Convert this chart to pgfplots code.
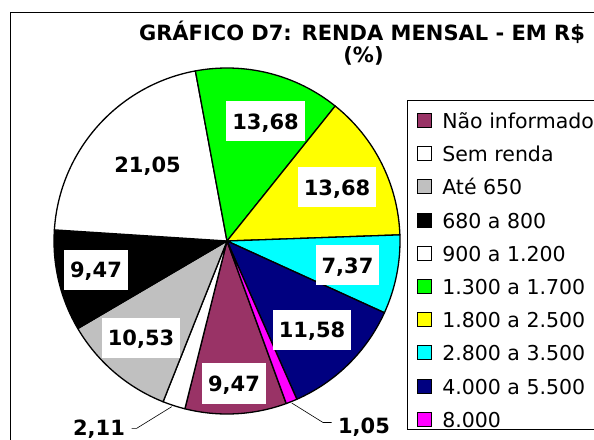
\documentclass[border=0pt]{standalone}
\usepackage{pgfplots}
\pgfplotsset{compat=1.18}
\usepackage{pgfplotstable}
\usepackage{fontspec}
\setmainfont{DejaVu Sans}

\definecolor{cNI}{HTML}{993366}
\definecolor{cSR}{HTML}{FFFFFF}
\definecolor{cA650}{HTML}{C0C0C0}
\definecolor{c680}{HTML}{000000}
\definecolor{c900}{HTML}{FFFFFF}
\definecolor{c1300}{HTML}{00FF00}
\definecolor{c1800}{HTML}{FFFF00}
\definecolor{c2800}{HTML}{00FFFF}
\definecolor{c4000}{HTML}{000080}
\definecolor{c8000}{HTML}{FF00FF}

% faixa de renda, percentual, cor, posicao do rotulo
\pgfplotstableread[col sep=comma]{
faixa,valor,cor,lx,ly,fundo
Não informado,9.47,cNI,234,55.5,white
Sem renda,2.11,cSR,99,11.5,none
Até 650,10.53,cA650,141,101,white
680 a 800,9.47,c680,96,169,white
900 a 1.200,21.05,c900,147.5,274,white
1.300 a 1.700,13.68,c1300,265.5,317.6,white
1.800 a 2.500,13.68,c1800,337,251.5,white
2.800 a 3.500,7.37,c2800,347.5,173.5,white
4.000 a 5.500,11.58,c4000,312,109,white
8.000,1.05,c8000,364,13.5,none
}\renda

\tikzset{rot/.style={font=\bfseries\fontsize{21}{25}\selectfont,
  inner xsep=5.8pt, inner ysep=0pt, text height=15.3pt, text depth=0pt,
  minimum height=40pt}}
\pgfkeys{/pgf/number format/.cd, use comma, fixed, fixed zerofill,
  precision=2, assume math mode=true}

\begin{document}
\begin{tikzpicture}
\begin{axis}[
    name=ax,
    x=1pt, y=1pt,
    xmin=0, xmax=594, ymin=0, ymax=439,
    axis lines=none,
    clip=false,
    legend image code/.code={
        \draw[#1,draw=black,line width=1pt] (0pt,1pt) rectangle (14pt,15pt);
        \path (24.5pt,0pt);},
    legend style={at={(axis cs:407,339)}, anchor=north west,
        draw=black, line width=0.8pt,
        font=\fontsize{20.5}{24}\selectfont,
        inner xsep=9.5pt, inner ysep=1.5pt, row sep=6.3pt,
        cells={anchor=base west},
        nodes={inner sep=0pt, text height=26.5pt, text depth=0pt}},
]
\pgfmathsetmacro\ang{-70}
\pgfplotsforeachungrouped \i in {0,...,9}{%
    \pgfplotstablegetelem{\i}{valor}\of\renda \let\val\pgfplotsretval
    \pgfplotstablegetelem{\i}{cor}\of\renda \let\cor\pgfplotsretval
    \pgfplotstablegetelem{\i}{faixa}\of\renda \let\faixa\pgfplotsretval
    \pgfmathsetmacro\fim{\ang-3.6*\val}
    \edef\fatia{\noexpand\filldraw[fill=\cor,draw=black,line width=1.3pt,line join=round]
        (axis cs:227,198) -- ++(\ang:173pt)
        arc[start angle=\ang,end angle=\fim,radius=173pt] -- cycle;}
    \fatia
    \edef\leg{\noexpand\addlegendimage{fill=\cor}\noexpand\addlegendentry{\faixa}}
    \leg
    \global\let\ang\fim
}
\pgfplotsforeachungrouped \i in {0,...,9}{%
    \pgfplotstablegetelem{\i}{valor}\of\renda \let\val\pgfplotsretval
    \pgfplotstablegetelem{\i}{lx}\of\renda \let\lx\pgfplotsretval
    \pgfplotstablegetelem{\i}{ly}\of\renda \let\ly\pgfplotsretval
    \pgfplotstablegetelem{\i}{fundo}\of\renda \let\fundo\pgfplotsretval
    \edef\rotulo{\noexpand\node[rot,fill=\fundo] at (axis cs:\lx,\ly)
        {\noexpand\pgfmathprintnumber{\val}};}
    \rotulo
}
% linhas de chamada
\draw[line width=0.6pt] (axis cs:131.7,10.7) -- (axis cs:136.7,10.7) -- (axis cs:171.7,32.3);
\draw[line width=0.6pt] (axis cs:291.7,36) -- (axis cs:323,16.5) -- (axis cs:331.7,16.5);
% titulo
\node[anchor=base, font=\bfseries\fontsize{21}{25}\selectfont] at (axis cs:362,398.3)
    {GRÁFICO D7: RENDA MENSAL - EM R\$};
\node[anchor=base, font=\bfseries\fontsize{21}{25}\selectfont] at (axis cs:363.5,376.5) {(\%)};
% moldura
\draw[line width=1pt] (axis cs:10,-20) -- (axis cs:10,426.5) -- (axis cs:700,426.5);
\end{axis}
\pgfresetboundingbox
\useasboundingbox (ax.south west) rectangle (ax.north east);
\end{tikzpicture}
\end{document}
